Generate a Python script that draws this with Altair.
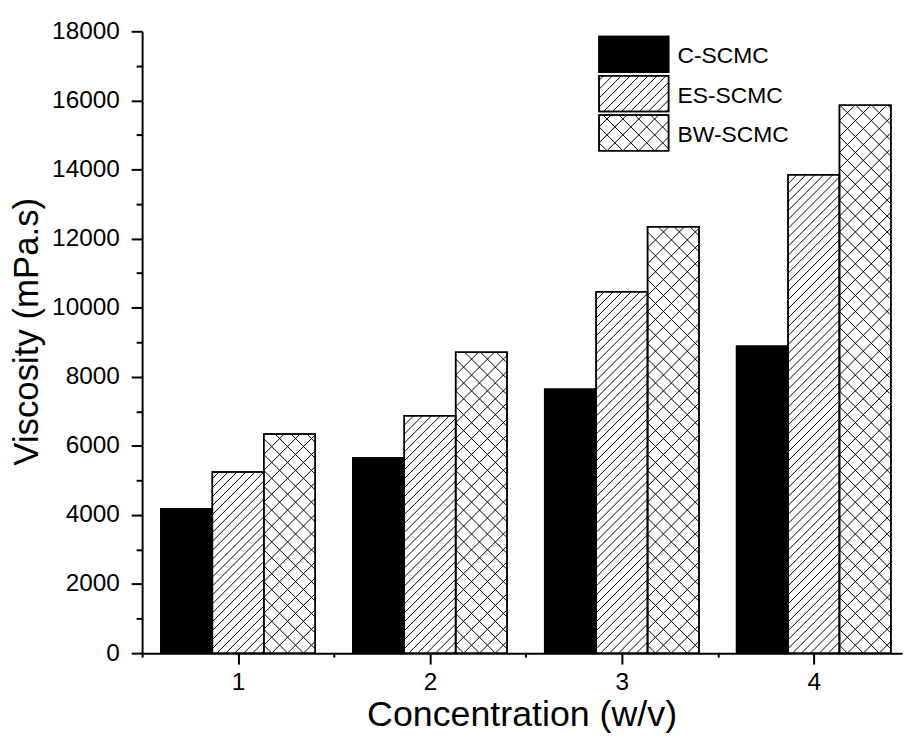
import math
import altair as alt
import pandas as pd

# ---------------- data ----------------
CONC = [1, 2, 3, 4]
SERIES = ["C-SCMC", "ES-SCMC", "BW-SCMC"]
C_SCMC = [4180, 5650, 7640, 8880]
ES_SCMC = [5240, 6870, 10460, 13850]
BW_SCMC = [6345, 8710, 12340, 15860]
Y_MAJOR = list(range(0, 18001, 2000))
Y_MINOR = list(range(1000, 18000, 2000))
X_MAJOR = [1, 2, 3, 4]
X_MINOR = [0.5, 1.5, 2.5, 3.5]

# ---------------- layout / style ----------------
FONT = "Liberation Sans"
XMIN, XMAX = 0.5, 4.46
YMIN, YMAX = 0, 18000
W, H = 765, 626
BAR_W = 0.268
# per series: list of (direction, spacing in px)
PATTERNS = {"C-SCMC": [], "ES-SCMC": [(1, 9)], "BW-SCMC": [(1, 16), (-1, 16)]}
FILLS = ["black", "white", "white"]
# legend box, in pixels from the plot's top-left corner
LEG_X, LEG_Y, LEG_W, LEG_H, LEG_STEP = 460, 5.3, 70, 36, 39.5

KX = W / (XMAX - XMIN)
KY = H / (YMAX - YMIN)


def px_to_x(px):
    return XMIN + px / KX


def py_to_y(py):
    return YMAX - py / KY


def hatch(w, h, s, d):
    """Segments (x1, y1, x2, y2) of 45-degree hatch lines inside a w x h box (y up)."""
    segs = []
    if d > 0:  # "/" lines : y = x - c
        for k in range(math.ceil(-h / s), math.floor(w / s) + 1):
            c = k * s + s / 2
            x1, x2 = max(0.0, c), min(w, h + c)
            if x2 - x1 > 0.3:
                segs.append((x1, x1 - c, x2, x2 - c))
    else:  # "\" lines : y = c - x
        for k in range(0, math.floor((w + h) / s) + 1):
            c = k * s + s / 2
            x1, x2 = max(0.0, c - h), min(w, c)
            if x2 - x1 > 0.3:
                segs.append((x1, c - x1, x2, c - x2))
    return segs


values = {"C-SCMC": C_SCMC, "ES-SCMC": ES_SCMC, "BW-SCMC": BW_SCMC}

bar_rows, hatch_rows = [], []
for i, c in enumerate(CONC):
    for j, s in enumerate(SERIES):
        v = values[s][i]
        xa = c + (j - 1.5) * BAR_W
        bar_rows.append(dict(conc=c, series=s, value=v, base=0, x_lo=xa, x_hi=xa + BAR_W))
        for d, sp in PATTERNS[s]:
            for (p1, q1, p2, q2) in hatch(BAR_W * KX, v * KY, sp, d):
                hatch_rows.append(dict(x1=xa + p1 / KX, y1=q1 / KY,
                                       x2=xa + p2 / KX, y2=q2 / KY))

# legend (positioned in pixels, converted to the chart's data space)
for j, s in enumerate(SERIES):
    x0, y0 = LEG_X, LEG_Y + j * LEG_STEP
    for d, sp in PATTERNS[s]:
        for (p1, q1, p2, q2) in hatch(LEG_W, LEG_H, sp, d):
            hatch_rows.append(dict(x1=px_to_x(x0 + p1), y1=py_to_y(y0 + LEG_H - q1),
                                   x2=px_to_x(x0 + p2), y2=py_to_y(y0 + LEG_H - q2)))
leg_rows = []
for j, s in enumerate(SERIES):
    x0, y0 = LEG_X, LEG_Y + j * LEG_STEP
    leg_rows.append(dict(series=s, x_lo=px_to_x(x0), x_hi=px_to_x(x0 + LEG_W),
                         value=py_to_y(y0), base=py_to_y(y0 + LEG_H),
                         tx=px_to_x(x0 + LEG_W + 9), ty=py_to_y(y0 + LEG_H / 2 + 2)))

bar_df = pd.DataFrame(bar_rows)
hatch_df = pd.DataFrame(hatch_rows)
leg_df = pd.DataFrame(leg_rows)

# ---------------- scales & axes ----------------
xs = alt.Scale(domain=[XMIN, XMAX], nice=False, zero=False)
ys = alt.Scale(domain=[YMIN, YMAX], nice=False)
fill_scale = alt.Scale(domain=SERIES, range=FILLS)

x_axis = alt.Axis(
    orient="bottom", values=X_MAJOR, format="d", tickSize=11,
    labelPadding=7, title="Concentration (w/v)", titleFontSize=36,
    titleX=382, titleY=73, titleBaseline="alphabetic", titleAlign="center",
)
y_axis = alt.Axis(
    orient="left", values=Y_MAJOR, format="d", tickSize=11,
    labelPadding=12, title="Viscosity (mPa.s)", titleFontSize=35,
    titleX=-116, titleY=302, titleBaseline="middle", titleAlign="center", titleAngle=270,
)
x_minor_axis = alt.Axis(orient="bottom", values=X_MINOR, tickSize=4, labels=False,
                        domain=False, title=None)
y_minor_axis = alt.Axis(orient="left", values=Y_MINOR, tickSize=6, labels=False,
                        domain=False, title=None)


def rect_layer(df, **mark):
    return alt.Chart(df).mark_rect(**mark).encode(
        x=alt.X("x_lo:Q", scale=xs, axis=None),
        x2="x_hi:Q",
        y=alt.Y("value:Q", scale=ys, axis=None),
        y2="base:Q",
    )


bars = alt.Chart(bar_df).mark_rect(stroke="black", strokeWidth=1.5).encode(
    x=alt.X("x_lo:Q", scale=xs, axis=x_axis),
    x2="x_hi:Q",
    y=alt.Y("value:Q", scale=ys, axis=y_axis),
    y2="base:Q",
    fill=alt.Fill("series:N", scale=fill_scale, legend=None),
)

hatch_lines = alt.Chart(hatch_df).mark_rule(color="black", strokeWidth=1).encode(
    x=alt.X("x1:Q", scale=xs, axis=x_minor_axis),
    x2="x2:Q",
    y=alt.Y("y1:Q", scale=ys, axis=y_minor_axis),
    y2="y2:Q",
)

outline = rect_layer(bar_df, fillOpacity=0, stroke="black", strokeWidth=1.5)

leg_rect = rect_layer(leg_df, stroke="black", strokeWidth=1.5).encode(
    fill=alt.Fill("series:N", scale=fill_scale, legend=None))
leg_outline = rect_layer(leg_df, fillOpacity=0, stroke="black", strokeWidth=1.5)

leg_text = alt.Chart(leg_df).mark_text(
    align="left", baseline="middle", font=FONT, fontSize=23, color="black"
).encode(
    x=alt.X("tx:Q", scale=xs, axis=None),
    y=alt.Y("ty:Q", scale=ys, axis=None),
    text="series:N",
)

chart = alt.layer(
    bars, leg_rect, hatch_lines, outline, leg_outline, leg_text
).resolve_axis(
    x="independent", y="independent"
).properties(
    width=W, height=H,
    autosize=alt.AutoSizeParams(type="none"),
    padding={"left": 135, "top": 21, "right": 3, "bottom": 87},
).configure_view(stroke=None).configure_axis(
    domainColor="black", domainWidth=2, tickColor="black", tickWidth=2,
    labelColor="black", titleColor="black", labelFont=FONT, titleFont=FONT,
    labelFontSize=24.5, titleFontWeight="normal",
    grid=False, labelFlush=False, labelOverlap=False, labelBound=False,
)

chart.save("out.html", embed_options={"renderer": "svg", "actions": False})
